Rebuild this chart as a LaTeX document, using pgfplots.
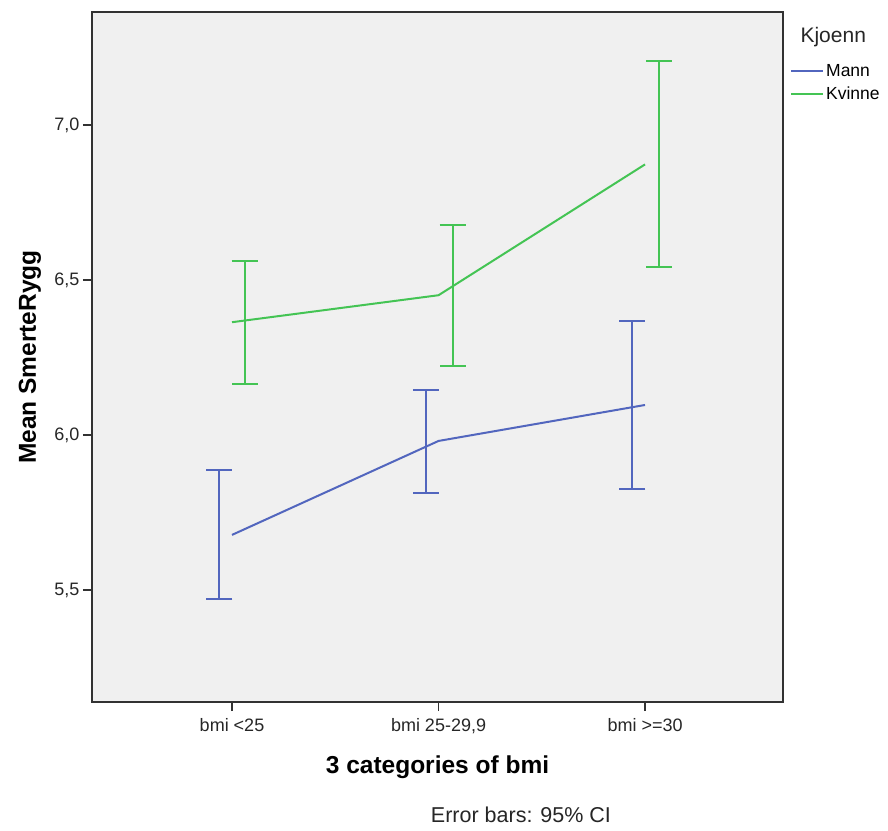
\documentclass[border=0pt]{standalone}
\usepackage{fontspec}
\setmainfont{Liberation Sans}
\usepackage{pgfplots}
\pgfplotsset{compat=1.18}

\definecolor{mann}{RGB}{82,102,190}
\definecolor{kvinne}{RGB}{68,196,84}
\definecolor{plotbg}{RGB}{240,240,240}
\definecolor{axisgray}{RGB}{50,50,50}

\begin{document}
\begin{tikzpicture}
\begin{axis}[
    scale only axis,
    width=691pt, height=690pt,
    xmin=-0.678, xmax=2.668,
    ymin=5.139, ymax=7.3645,
    axis background/.style={fill=plotbg},
    axis line style={axisgray, line width=1.6pt},
    xtick={0,1,2},
    xticklabels={bmi <25, bmi 25-29{,}9, bmi >=30},
    ytick={5.5,6.0,6.5,7.0},
    yticklabels={5{,}5, 6{,}0, 6{,}5, 7{,}0},
    tick align=outside,
    major tick length=9pt,
    tick style={axisgray, line width=1.2pt},
    xtick pos=bottom, ytick pos=left,
    ticklabel style={font=\fontsize{18}{21}\selectfont, text=black!85},
    xticklabel style={yshift=-4pt},
    xlabel={\bfseries 3 categories of bmi},
    ylabel={\bfseries Mean SmerteRygg},
    label style={font=\fontsize{24.5}{28}\selectfont},
    xlabel style={at={(axis description cs:0.5,0)}, anchor=center, yshift=-65pt},
    ylabel style={at={(axis description cs:0,0.5)}, anchor=center, yshift=62pt},
    legend style={at={(axis description cs:1.0101,0.9275)}, anchor=north west,
        draw=none, fill=none, inner sep=0pt,
        font=\fontsize{17.5}{20}\selectfont,
        row sep=5pt},
    legend cell align=left,
    legend image code/.code={\draw[#1, line width=2pt] (0pt,0pt) -- (32pt,0pt);},
    clip=false,
]

% Means
\addplot[mann, line width=2pt] coordinates {(0,5.678) (1,5.981) (2,6.097)};
\addlegendentry{Mann}
\addplot[kvinne, line width=2pt] coordinates {(0,6.364) (1,6.451) (2,6.873)};
\addlegendentry{Kvinne}

% 95% CI error bars (offset from category centre)
\addplot[forget plot, draw=none, mark=none,
    error bars/.cd, y dir=both, y explicit,
    error bar style={draw=mann, line width=2pt},
    error mark options={draw=mann, line width=2pt, mark size=13pt, rotate=90}]
    coordinates {
    (-0.061,5.678) += (0,0.209) -= (0,0.206)
    (0.939,5.981) += (0,0.164) -= (0,0.168)
    (1.939,6.097) += (0,0.270) -= (0,0.271)
};
\addplot[forget plot, draw=none, mark=none,
    error bars/.cd, y dir=both, y explicit,
    error bar style={draw=kvinne, line width=2pt},
    error mark options={draw=kvinne, line width=2pt, mark size=13pt, rotate=90}]
    coordinates {
    (0.061,6.364) += (0,0.196) -= (0,0.200)
    (1.068,6.451) += (0,0.225) -= (0,0.229)
    (2.068,6.873) += (0,0.332) -= (0,0.332)
};

\node[anchor=west, font=\fontsize{21}{24}\selectfont, text=black!85]
    at (axis description cs:1.0203,0.9638) {Kjoenn};
\node[anchor=center, font=\fontsize{21.5}{24}\selectfont, text=black!85]
    at (axis description cs:0.6208,-0.1638) {Error bars: 95\% CI};

\coordinate (sw) at (axis description cs:0,0);
\coordinate (ne) at (axis description cs:1,1);
\end{axis}
\pgfresetboundingbox
\path ([shift={(-92pt,-128pt)}]sw) rectangle ([shift={(105pt,12pt)}]ne);
\end{tikzpicture}
\end{document}
